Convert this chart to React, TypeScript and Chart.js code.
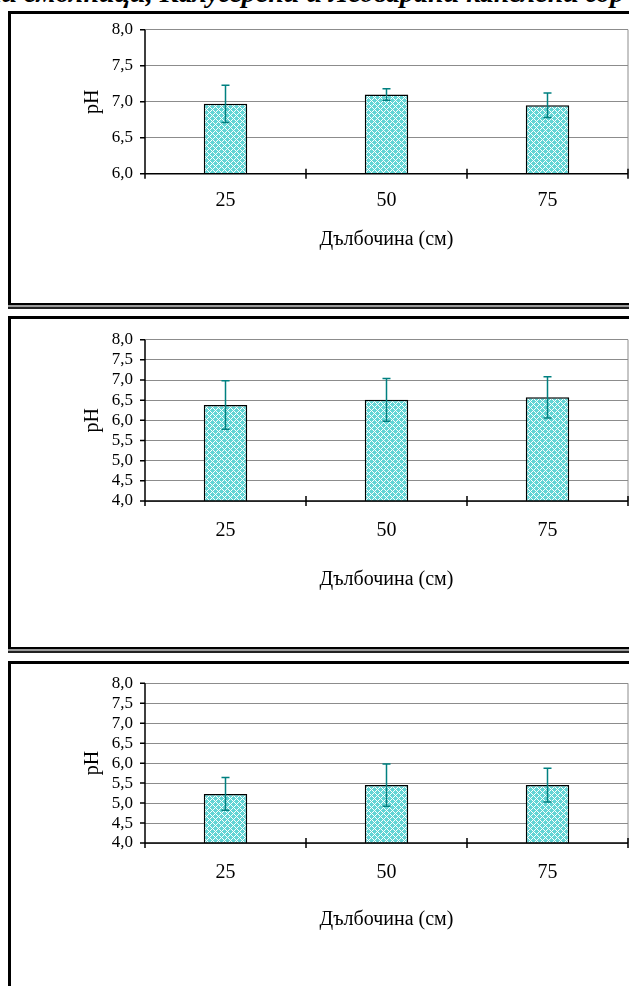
import React, { useEffect, useRef } from 'react';
import { Chart, registerables } from 'chart.js';

Chart.register(...registerables);

// ---- data ----
const categories = ['25', '50', '75'];
const phPanel1 = [6.97, 7.1, 6.95];
const errPanel1 = [0.26, 0.08, 0.17];
const phPanel2 = [6.38, 6.51, 6.57];
const errPanel2 = [0.6, 0.53, 0.51];
const phPanel3 = [5.23, 5.45, 5.45];
const errPanel3 = [0.41, 0.53, 0.42];
const yMinPanel1 = 6;
const yMinOther = 4;
const yMax = 8;
const yStep = 0.5;
const xTitle = 'Дълбочина (см)';
const yTitle = 'pH';
const headerText = 'ни смолници, Калугерени и Ледварани канелени гор';

const FONT = "'Liberation Serif', 'Times New Roman', serif";

function makePattern(): CanvasPattern | string {
  const N = 6;
  const c = document.createElement('canvas');
  c.width = N;
  c.height = N;
  const g = c.getContext('2d');
  if (!g) return '#88dddd';
  g.fillStyle = '#62d5d5';
  g.fillRect(0, 0, N, N);
  g.fillStyle = '#ffffff';
  for (let x = 0; x < N; x++) {
    for (let y = 0; y < N; y++) {
      if ((x + y) % N === 0 || (x - y + N) % N === 0) g.fillRect(x, y, 1, 1);
    }
  }
  return g.createPattern(c, 'repeat') || '#88dddd';
}

const overlayPlugin = {
  id: 'overlay',
  afterDatasetsDraw(chart: any, _args: any, opts: any) {
    const { ctx, chartArea: a, scales } = chart;
    const y = scales.y;
    const vals: number[] = opts.values;
    const errs: number[] = opts.errors;
    ctx.save();
    // error bars
    ctx.strokeStyle = '#008080';
    ctx.lineWidth = 1.5;
    const meta = chart.getDatasetMeta(0);
    meta.data.forEach((bar: any, i: number) => {
      const px = bar.x;
      const yHi = y.getPixelForValue(vals[i] + errs[i]);
      const yLo = y.getPixelForValue(vals[i] - errs[i]);
      ctx.beginPath();
      ctx.moveTo(px, yHi);
      ctx.lineTo(px, yLo);
      ctx.moveTo(px - 4, yHi);
      ctx.lineTo(px + 4, yHi);
      ctx.moveTo(px - 4, yLo);
      ctx.lineTo(px + 4, yLo);
      ctx.stroke();
    });
    // right border of plot area
    ctx.strokeStyle = '#8c8c8c';
    ctx.lineWidth = 1;
    ctx.beginPath();
    ctx.moveTo(a.right, a.top);
    ctx.lineTo(a.right, a.bottom);
    ctx.stroke();
    // axes
    ctx.strokeStyle = '#000';
    ctx.lineWidth = 1.5;
    ctx.beginPath();
    ctx.moveTo(a.left, a.top);
    ctx.lineTo(a.left, a.bottom + 5);
    ctx.moveTo(a.left, a.bottom);
    ctx.lineTo(a.right, a.bottom);
    y.ticks.forEach((t: any) => {
      const py = y.getPixelForValue(t.value);
      ctx.moveTo(a.left - 5, py);
      ctx.lineTo(a.left, py);
    });
    const n = categories.length;
    const w = (a.right - a.left) / n;
    for (let i = 1; i <= n; i++) {
      const xb = a.left + i * w;
      ctx.moveTo(xb, a.bottom - 5);
      ctx.lineTo(xb, a.bottom + 5);
    }
    ctx.stroke();
    ctx.restore();
  },
};

type PanelProps = {
  values: number[];
  errors: number[];
  yMin: number;
  plotTop: number;
  plotBottom: number;
  labelCenter: number;
  titleCenter: number;
};

const CANVAS_LEFT = 11;
const CANVAS_W = 660;
const PLOT_LEFT = 145;
const PLOT_RIGHT = 628;

function PhPanel({ values, errors, yMin, plotTop, plotBottom, labelCenter, titleCenter }: PanelProps) {
  const ref = useRef<HTMLCanvasElement | null>(null);
  const canvasTop = Math.round(plotTop - 26);
  const titleFont = 20;
  const titleLH = titleFont * 1.2;
  const canvasH = Math.round(titleCenter - canvasTop + titleLH / 2 + 2);

  useEffect(() => {
    if (!ref.current) return;
    const pTop = plotTop - canvasTop;
    const pBottom = plotBottom - canvasTop;
    const xH = canvasH - pBottom;
    const labelFont = 20;
    const labelPad = labelCenter - plotBottom - (labelFont * 1.2) / 2;
    const titlePadBottom = canvasH - (titleCenter - canvasTop) - titleLH / 2;
    const yTitleCenter = 93 - CANVAS_LEFT;

    const chart = new Chart(ref.current, {
      type: 'bar',
      data: {
        labels: categories,
        datasets: [
          {
            data: values,
            backgroundColor: makePattern() as any,
            borderColor: '#000',
            borderWidth: 1.5,
            categoryPercentage: 1,
            barPercentage: 0.27,
          },
        ],
      },
      options: {
        animation: false,
        responsive: false,
        maintainAspectRatio: false,
        devicePixelRatio: 1,
        layout: {
          padding: { top: pTop, right: CANVAS_W - (PLOT_RIGHT - CANVAS_LEFT), bottom: 0, left: 0 },
        },
        plugins: {
          legend: { display: false },
          tooltip: { enabled: false },
          overlay: { values, errors },
        } as any,
        scales: {
          x: {
            type: 'category',
            offset: true,
            grid: { display: true, drawOnChartArea: false, drawTicks: false },
            border: { display: false },
            ticks: {
              color: '#000',
              padding: labelPad,
              font: { family: FONT, size: labelFont },
              maxRotation: 0,
            },
            title: {
              display: true,
              text: xTitle,
              color: '#000',
              font: { family: FONT, size: titleFont },
              padding: { top: 0, bottom: titlePadBottom },
            },
            afterFit: (s: any) => {
              s.height = xH;
            },
          },
          y: {
            min: yMin,
            max: yMax,
            grid: { color: '#8c8c8c', lineWidth: 1, drawTicks: false },
            border: { display: false },
            ticks: {
              stepSize: yStep,
              autoSkip: false,
              color: '#000',
              padding: 12,
              font: { family: FONT, size: 17 },
              callback: (v: any) => Number(v).toFixed(1).replace('.', ','),
            },
            title: {
              display: true,
              text: yTitle,
              color: '#000',
              font: { family: FONT, size: 20 },
              padding: { top: yTitleCenter - 12, bottom: 0 },
            },
            afterFit: (s: any) => {
              s.width = PLOT_LEFT - CANVAS_LEFT;
            },
          },
        },
      },
      plugins: [overlayPlugin],
    });
    return () => chart.destroy();
  }, []);

  return (
    <canvas
      ref={ref}
      width={CANVAS_W}
      height={canvasH}
      style={{ position: 'absolute', left: CANVAS_LEFT, top: canvasTop, width: CANVAS_W, height: canvasH }}
    />
  );
}

function Frame({ top, bottom }: { top: number; bottom: number }) {
  return (
    <div
      style={{
        position: 'absolute',
        left: 8,
        top,
        width: 700,
        height: bottom - top,
        boxSizing: 'border-box',
        borderTop: '3px solid #000',
        borderLeft: '3px solid #000',
        borderBottom: '2px solid #000',
        boxShadow: '0 2px 0 #9a9a9a, 0 4px 0 #222',
        background: '#fff',
      }}
    />
  );
}

export default function App() {
  return (
    <div
      style={{
        position: 'absolute',
        left: 0,
        top: 0,
        width: 629,
        height: 986,
        overflow: 'hidden',
        background: '#fff',
      }}
    >
      <div
        style={{
          position: 'absolute',
          left: -14,
          top: -21,
          whiteSpace: 'nowrap',
          fontFamily: FONT,
          fontStyle: 'italic',
          fontWeight: 'bold',
          fontSize: 28,
          lineHeight: '28px',
          color: '#000',
        }}
      >
        {headerText}
      </div>
      <Frame top={11} bottom={305} />
      <Frame top={316} bottom={649} />
      <Frame top={661} bottom={1100} />
      <PhPanel values={phPanel1} errors={errPanel1} yMin={yMinPanel1} plotTop={29.7} plotBottom={173.7} labelCenter={201} titleCenter={240} />
      <PhPanel values={phPanel2} errors={errPanel2} yMin={yMinOther} plotTop={339.7} plotBottom={501} labelCenter={531} titleCenter={580} />
      <PhPanel values={phPanel3} errors={errPanel3} yMin={yMinOther} plotTop={683.3} plotBottom={843} labelCenter={873} titleCenter={920} />
    </div>
  );
}
